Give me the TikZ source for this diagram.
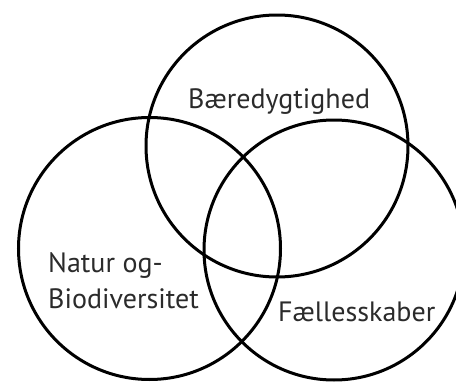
\documentclass[tikz,border=0pt]{standalone}
\usepackage{fontspec}
\setmainfont{PT Sans}
\definecolor{txt}{HTML}{2B2B2B}
\begin{document}
\begin{tikzpicture}[x=1pt,y=-1pt,
  ring/.style={line width=3pt,draw=black},
  lbl/.style={anchor=base west,inner sep=0pt,text=txt,font=\fontsize{28}{36}\selectfont}]
\useasboundingbox (0,0) rectangle (456,383);
\coordinate (ctop) at (277,146);
\coordinate (cleft) at (149.5,248.5);
\coordinate (cright) at (334,250);
\draw[ring] (ctop) circle (131);
\draw[ring] (cleft) circle (131);
\draw[ring] (cright) circle (130);
\node[lbl] (b) at (188,108) {Bæredygtighed};
\node[lbl] (n1) at (48,272) {Natur og-};
\node[lbl] (n2) at (48,308) {Biodiversitet};
\node[lbl] (f) at (278,321) {Fællesskaber};
\end{tikzpicture}
\end{document}
